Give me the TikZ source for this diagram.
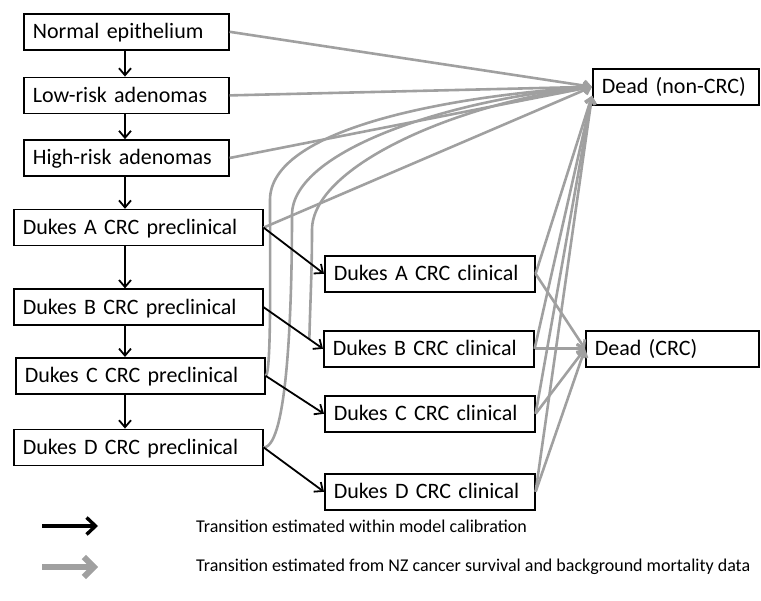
\documentclass[tikz,border=0pt]{standalone}
\usepackage{fontspec}
\setmainfont{Carlito}
\usepackage{xcolor}
\usetikzlibrary{arrows.meta,positioning,calc}
\definecolor{deathgrey}{RGB}{160,160,160}

\begin{document}
\begin{tikzpicture}[
    x=1pt, y=-1pt,
    font=\fontsize{22}{26}\selectfont,
    box/.style={draw, line width=1.6pt, fill=white, inner xsep=9pt, inner ysep=0pt,
      minimum height=36pt, text height=14pt, text depth=0pt, align=left},
    smallbox/.style={box, text width=187pt},
    prebox/.style={box, text width=231pt},
    clinbox/.style={box, text width=192pt},
    arrow/.style={-{Straight Barb[length=7pt,width=12pt]}, line width=1.8pt},
    greyarrow/.style={-{Straight Barb[length=6pt,width=10pt]}, line width=2.6pt, draw=deathgrey},
    keytext/.style={font=\fontsize{18}{22}\selectfont, anchor=west, inner sep=0pt}
  ]
    \useasboundingbox (0,0) rectangle (761,601);
    \node[smallbox, anchor=north west] (ne) at (23,13) {Normal epithelium};
    \node[smallbox, below right=26pt and 0pt of ne.south west] (lr) {Low-risk adenomas};
    \node[smallbox, below right=25pt and 0pt of lr.south west] (hr) {High-risk adenomas};
    \node[prebox, below right=32pt and -10pt of hr.south west] (pa) {Dukes A CRC preclinical};
    \node[prebox, below right=42pt and 0pt of pa.south west] (pb) {Dukes B CRC preclinical};
    \node[prebox, below right=31pt and 2pt of pb.south west] (pc) {Dukes C CRC preclinical};
    \node[prebox, below right=34pt and -2pt of pc.south west] (pd) {Dukes D CRC preclinical};
    \node[clinbox, anchor=north west] (ca) at (324,255) {Dukes A CRC clinical};
    \node[clinbox, anchor=north west] (cb) at (323,330) {Dukes B CRC clinical};
    \node[clinbox, anchor=north west] (cc) at (324,395) {Dukes C CRC clinical};
    \node[clinbox, anchor=north west] (cd) at (324,473) {Dukes D CRC clinical};
    \node[box, text width=148pt, anchor=north west] (dn) at (592,68) {Dead (non-CRC)};
    \node[box, text width=155pt, anchor=north west] (dc) at (585,330) {Dead (CRC)};
    \coordinate (spine) at (125,0);
    \coordinate (bendb) at (312,230);
    \coordinate (bendc) at (270,200);
    \coordinate (bendd) at (292,215);

    \draw[greyarrow] (ne.east) -- (dn.west);
    \draw[greyarrow] (lr.east) -- (dn.west);
    \draw[greyarrow] (hr.east) -- (dn.west);
    \draw[greyarrow] (pa.east) -- (dn.west);
    \draw[greyarrow] ($(pb.east)!0.77!(cb.west)$) .. controls +(1,-40) and +(0,40) .. (bendb)
      .. controls +(0,-65) and +(-130,15) .. (dn.west);
    \draw[greyarrow] (pc.east) .. controls +(6,0) and +(0,60) .. (bendc)
      .. controls +(0,-70) and +(-150,10) .. (dn.west);
    \draw[greyarrow] (pd.east) .. controls +(25,0) and +(0,80) .. (bendd)
      .. controls +(0,-65) and +(-140,12) .. (dn.west);
    \draw[greyarrow] (ca.east) -- ([yshift=-9pt]dn.west);
    \draw[greyarrow] (cb.east) -- ([yshift=-9pt]dn.west);
    \draw[greyarrow] (cc.east) -- ([yshift=-9pt]dn.west);
    \draw[greyarrow] (cd.east) -- ([yshift=-9pt]dn.west);
    \draw[greyarrow] (ca.east) -- (dc.west);
    \draw[greyarrow] (cb.east) -- (dc.west);
    \draw[greyarrow] (cc.east) -- (dc.west);
    \draw[greyarrow] (cd.east) -- (dc.west);

    \draw[arrow] (ne.south -| spine) -- (lr.north -| spine);
    \draw[arrow] (lr.south -| spine) -- (hr.north -| spine);
    \draw[arrow] (hr.south -| spine) -- (pa.north -| spine);
    \draw[arrow] (pa.south -| spine) -- (pb.north -| spine);
    \draw[arrow] (pb.south -| spine) -- (pc.north -| spine);
    \draw[arrow] (pc.south -| spine) -- (pd.north -| spine);
    \draw[arrow] (pa.east) -- (ca.west);
    \draw[arrow] (pb.east) -- (cb.west);
    \draw[arrow] (pc.east) -- (cc.west);
    \draw[arrow] (pd.east) -- (cd.west);

    \coordinate (keyb1) at (42,526);
    \coordinate (keyb2) at (98,526);
    \coordinate (keyg1) at (42,567);
    \coordinate (keyg2) at (98,567);
    \draw[-{Straight Barb[length=9pt,width=17pt]}, line width=3.4pt] (keyb1) -- (keyb2);
    \draw[-{Straight Barb[length=10pt,width=20pt]}, line width=6pt, draw=deathgrey] (keyg1) -- (keyg2);
    \node[keytext] (keybt) at (196,526) {Transition estimated within model calibration};
    \node[keytext] (keygt) at (196,567) {Transition estimated from NZ cancer survival and background mortality data};
  \end{tikzpicture}
\end{document}
